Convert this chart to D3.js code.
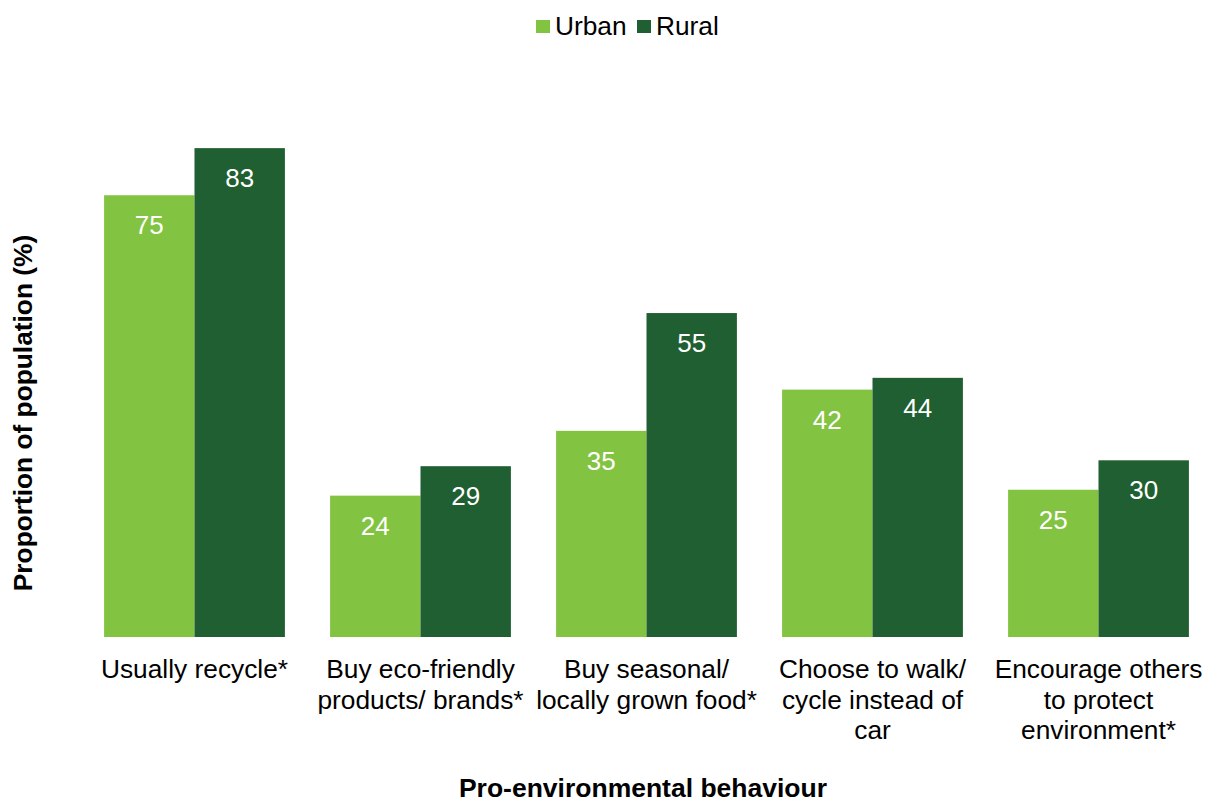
<!DOCTYPE html>
<html lang="en">
<head>
<meta charset="UTF-8">
<title>Pro-environmental behaviour</title>
<script src="https://cdnjs.cloudflare.com/ajax/libs/d3/7.8.5/d3.min.js"></script>
<style>
  body { margin: 0; background: #fff; }
  text { font-family: "Liberation Sans", Arial, sans-serif; }
</style>
</head>
<body>
<svg id="chart" width="1214" height="804"></svg>
<script>
// data
var categories = [
    ["Usually recycle*"],
    ["Buy eco-friendly", "products/ brands*"],
    ["Buy seasonal/", "locally grown food*"],
    ["Choose to walk/", "cycle instead of", "car"],
    ["Encourage others", "to protect", "environment*"]
];
var seriesNames = ["Urban", "Rural"];
var urban = [75, 24, 35, 42, 25];
var rural = [83, 29, 55, 44, 30];
var colors = ["#82c341", "#1f5f31"];

var svg = d3.select("#chart");

var x0 = d3.scaleBand()
    .domain(d3.range(categories.length))
    .range([81.5, 1211.5])
    .paddingInner(0.2)
    .paddingOuter(0.1);

var x1 = d3.scaleBand()
    .domain(seriesNames)
    .range([0, x0.bandwidth()]);

var y = d3.scaleLinear()
    .domain([0, 100])
    .range([637, 48]);

var color = d3.scaleOrdinal().domain(seriesNames).range(colors);

var rows = categories.map(function(c, i) {
    return {i: i, values: [{k: "Urban", v: urban[i]}, {k: "Rural", v: rural[i]}]};
});

var groups = svg.append("g").selectAll("g")
    .data(rows)
    .join("g")
    .attr("transform", function(d) { return "translate(" + x0(d.i) + ",0)"; });

groups.selectAll("rect")
    .data(function(d) { return d.values; })
    .join("rect")
    .attr("x", function(d) { return x1(d.k); })
    .attr("y", function(d) { return y(d.v); })
    .attr("width", x1.bandwidth())
    .attr("height", function(d) { return y(0) - y(d.v); })
    .attr("fill", function(d) { return color(d.k); });

groups.selectAll("text.val")
    .data(function(d) { return d.values; })
    .join("text")
    .attr("class", "val")
    .attr("x", function(d) { return x1(d.k) + x1.bandwidth() / 2; })
    .attr("y", function(d) { return y(d.v) + 39; })
    .attr("text-anchor", "middle")
    .attr("fill", "#fff")
    .style("font-size", "26px")
    .text(function(d) { return d.v; });

// x axis labels (no line, no ticks)
var xAxis = d3.axisBottom(x0).tickSize(0).tickFormat("");
var gx = svg.append("g").attr("transform", "translate(0," + y(0) + ")").call(xAxis);
gx.select(".domain").remove();

gx.selectAll(".tick").append("text")
    .attr("text-anchor", "middle")
    .attr("fill", "#000")
    .style("font-size", "26.3px")
    .selectAll("tspan")
    .data(function(i) { return categories[i]; })
    .join("tspan")
    .attr("x", 0)
    .attr("y", function(d, j) { return 41 + j * 30.5; })
    .text(function(d) { return d; });

// axis titles
svg.append("text")
    .attr("x", 643)
    .attr("y", 797)
    .attr("text-anchor", "middle")
    .style("font-size", "26.5px")
    .style("font-weight", "bold")
    .text("Pro-environmental behaviour");

svg.append("text")
    .attr("transform", "translate(32,413) rotate(-90)")
    .attr("text-anchor", "middle")
    .style("font-size", "26.3px")
    .style("font-weight", "bold")
    .text("Proportion of population (%)");

// legend
var legend = svg.append("g");
var legendX = [536, 637];
seriesNames.forEach(function(s, i) {
    legend.append("rect")
        .attr("x", legendX[i])
        .attr("y", 20)
        .attr("width", 14)
        .attr("height", 13)
        .attr("fill", color(s));
    legend.append("text")
        .attr("x", legendX[i] + 19)
        .attr("y", 35)
        .style("font-size", "26.3px")
        .text(s);
});
</script>
</body>
</html>
